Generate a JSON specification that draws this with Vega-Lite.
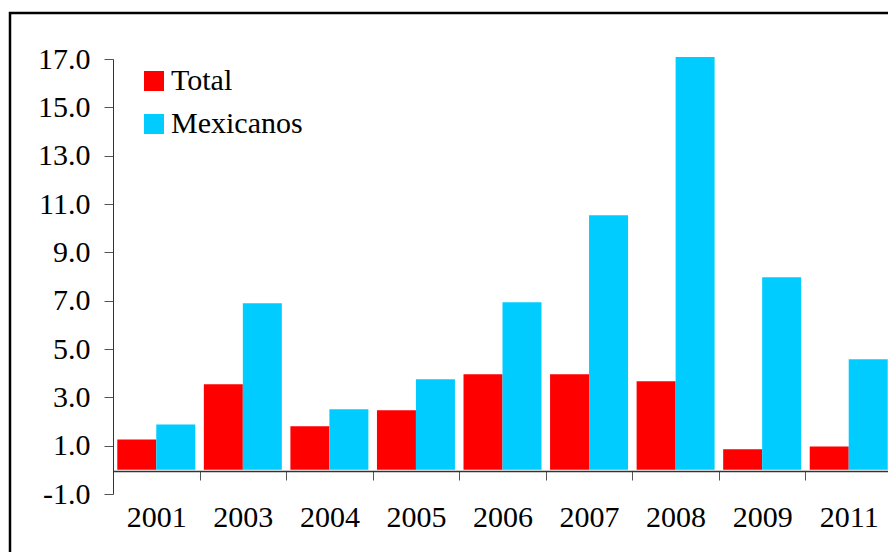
{
  "$schema": "https://vega.github.io/schema/vega-lite/v6.json",
  "width": 890,
  "height": 547,
  "autosize": "none",
  "padding": {"left": 10, "top": 13, "right": 0, "bottom": 0},
  "background": "white",
  "config": {
    "view": {"stroke": "black", "strokeWidth": 2.5},
    "font": "Liberation Serif",
    "axis": {"labelFont": "Liberation Serif", "labelFontSize": 30, "labelColor": "black", "grid": false, "title": null, "domainColor": "#333", "tickColor": "#555"},
    "legend": {"labelFont": "Liberation Serif", "labelFontSize": 30, "labelColor": "black"}
  },
  "data": {
    "values": [
      {"year": "2001", "series": "Total", "value": 1.26},
      {"year": "2001", "series": "Mexicanos", "value": 1.88},
      {"year": "2003", "series": "Total", "value": 3.54},
      {"year": "2003", "series": "Mexicanos", "value": 6.89},
      {"year": "2004", "series": "Total", "value": 1.8},
      {"year": "2004", "series": "Mexicanos", "value": 2.51},
      {"year": "2005", "series": "Total", "value": 2.47},
      {"year": "2005", "series": "Mexicanos", "value": 3.75},
      {"year": "2006", "series": "Total", "value": 3.96},
      {"year": "2006", "series": "Mexicanos", "value": 6.93},
      {"year": "2007", "series": "Total", "value": 3.96},
      {"year": "2007", "series": "Mexicanos", "value": 10.53},
      {"year": "2008", "series": "Total", "value": 3.67},
      {"year": "2008", "series": "Mexicanos", "value": 17.08},
      {"year": "2009", "series": "Total", "value": 0.85},
      {"year": "2009", "series": "Mexicanos", "value": 7.97},
      {"year": "2011", "series": "Total", "value": 0.97},
      {"year": "2011", "series": "Mexicanos", "value": 4.58}
    ]
  },
  "mark": {"type": "bar", "clip": false},
  "encoding": {
    "x": {
      "field": "year", "type": "nominal", "sort": null,
      "scale": {"range": [103, 882], "paddingInner": 0, "paddingOuter": 0},
      "axis": {"labelAngle": 0, "offset": -89, "tickBand": "extent", "tickSize": 9, "labelPadding": 22, "domainColor": "#333", "domainWidth": 1.5}
    },
    "xOffset": {"field": "series", "type": "nominal", "sort": ["Total", "Mexicanos"], "scale": {"paddingInner": 0, "paddingOuter": 0.11}},
    "y": {
      "field": "value", "type": "quantitative",
      "scale": {"domain": [-1, 17], "range": [481, 46], "nice": false, "zero": false},
      "axis": {"offset": -103, "values": [-1, 1, 3, 5, 7, 9, 11, 13, 15, 17], "labelExpr": "datum.value < 0 ? '-' + format(-datum.value, '.1f') : format(datum.value, '.1f')", "tickSize": 9, "labelPadding": 14}
    },
    "y2": {"datum": 0},
    "color": {
      "field": "series", "type": "nominal",
      "scale": {"domain": ["Total", "Mexicanos"], "range": ["#FF0000", "#00CCFF"]},
      "legend": {"title": null, "orient": "none", "legendX": 129, "legendY": 53, "symbolType": "square", "symbolSize": 400, "symbolStrokeWidth": 0, "symbolOpacity": 1, "labelOffset": 2, "rowPadding": 13}
    }
  }
}
